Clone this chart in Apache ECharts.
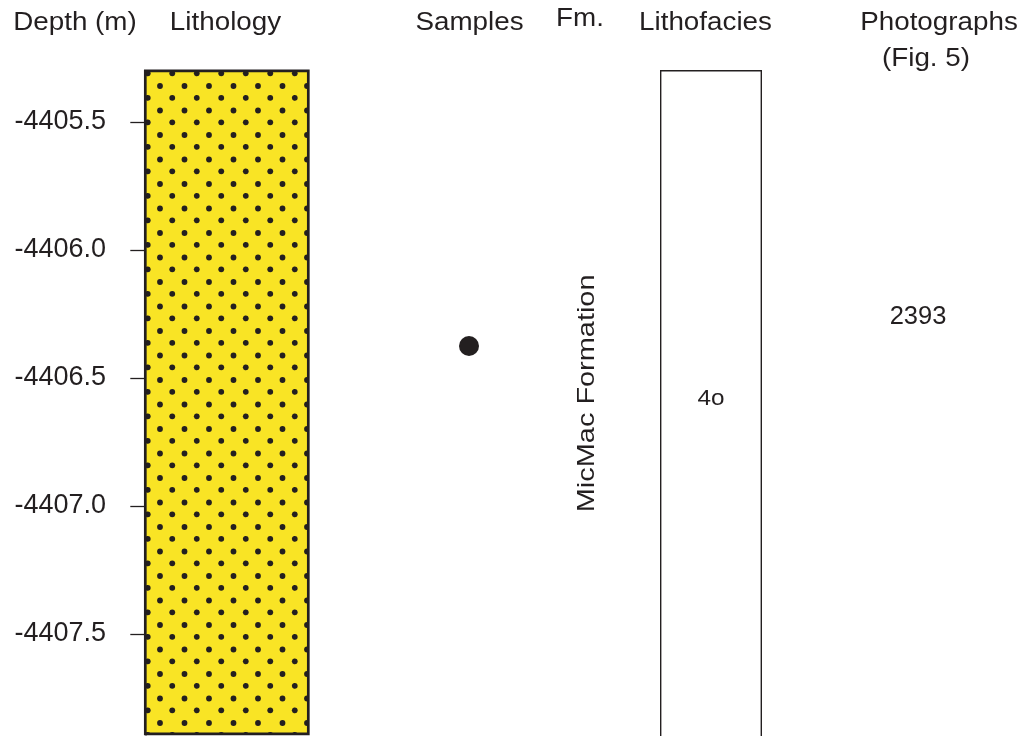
<!DOCTYPE html>
<html><head><meta charset="utf-8">
<script src="https://cdn.jsdelivr.net/npm/echarts@6/dist/echarts.min.js"></script>
<style>html,body{margin:0;padding:0;background:#fff}#c{width:1028px;height:736px}</style>
</head><body><div id="c"></div>
<script>
// ---------- data ----------
const depthTicks = [-4405.5, -4406.0, -4406.5, -4407.0, -4407.5];
const depthMin = -4408.0;
const depthMax = -4405.3;

const lithologyTop = [-4405.3];
const lithologyBottom = [-4407.89];
const lithologyRock = ['sandstone'];

const sampleDepths = [-4406.375];

const formationNames = ['MicMac Formation'];
const formationLabelDepth = [-4406.56];

const lithofaciesCodes = ['4o'];
const lithofaciesTop = [-4405.3];
const lithofaciesBottom = [-4408.0];
const lithofaciesLabelDepth = [-4406.58];

const photoLabels = ['2393'];
const photoDepths = [-4406.26];

const headerTexts = ['Depth (m)', 'Lithology', 'Samples', 'Fm.', 'Lithofacies', 'Photographs', '(Fig. 5)'];

// ---------- styling / layout ----------
const INK = '#231f20';
const FONT = 'Liberation Sans';
const headerLayout = [
  {x: 75, y: 22.5},
  {x: 225.5, y: 22.5},
  {x: 469.5, y: 22.5},
  {x: 580, y: 18.5},
  {x: 705.5, y: 22.5},
  {x: 939, y: 22.5},
  {x: 926, y: 59}
];
const HEADER_SIZE = 25.5, HEADER_STRETCH = 1.09;

function sandPattern() {
  const s = 49, c = document.createElement('canvas');
  c.width = s; c.height = s;
  const g = c.getContext('2d');
  g.fillStyle = '#f9e425'; g.fillRect(0, 0, s, s);
  g.fillStyle = INK;
  const pts = [[13, 37], [37.5, 37], [13, 12.5], [37.5, 12.5], [0.75, 24.3], [25.25, 24.3], [0.75, 48.8], [25.25, 48.8]];
  pts.forEach(([x, y]) => {
    for (const dx of [-s, 0, s]) for (const dy of [-s, 0, s]) {
      g.beginPath(); g.arc(x + dx, y + dy, 2.9, 0, Math.PI * 2); g.fill();
    }
  });
  return c;
}
const sandFill = {image: sandPattern(), repeat: 'repeat'};

const TOP = 70.8, HEIGHT = 691.2;
const grids = [
  {left: 145.3, top: TOP, width: 163, height: HEIGHT},   // lithology
  {left: 441, top: TOP, width: 56, height: HEIGHT},      // samples
  {left: 560, top: TOP, width: 54, height: HEIGHT},      // formation
  {left: 660.7, top: TOP, width: 100.6, height: HEIGHT}, // lithofacies
  {left: 890, top: TOP, width: 56, height: HEIGHT}       // photographs
].map(g => Object.assign(g, {outerBoundsMode: 'none', containLabel: false}));

const xAxes = grids.map((g, i) => ({type: 'value', gridIndex: i, min: 0, max: 1, show: false}));
const yAxes = grids.map((g, i) => {
  if (i === 0) {
    return {
      type: 'value', gridIndex: 0, min: depthMin, max: depthMax, position: 'left', offset: 3.8,
      axisLine: {show: true, lineStyle: {color: '#9a9a9a', width: 1.6}},
      axisTick: {show: true, length: 15, customValues: depthTicks, lineStyle: {color: INK, width: 1.3}},
      axisLabel: {customValues: depthTicks, formatter: v => v.toFixed(1), margin: 35.5,
        fontFamily: FONT, fontSize: 27, color: INK},
      splitLine: {show: false}
    };
  }
  return {type: 'value', gridIndex: i, min: depthMin, max: depthMax, show: false};
});

const option = {
  animation: false,
  backgroundColor: '#fff',
  grid: grids,
  xAxis: xAxes,
  yAxis: yAxes,
  graphic: headerTexts.map((t, i) => ({
    type: 'text', x: headerLayout[i].x, y: headerLayout[i].y, scaleX: HEADER_STRETCH,
    style: {text: t, fill: INK, font: HEADER_SIZE + 'px "' + FONT + '"', align: 'center', verticalAlign: 'middle'}
  })),
  series: [
    {
      type: 'custom', xAxisIndex: 0, yAxisIndex: 0,
      data: lithologyTop.map((t, i) => [t, lithologyBottom[i]]),
      encode: {y: [0, 1]},
      renderItem: (params, api) => {
        const p1 = api.coord([0, api.value(0)]);
        const p2 = api.coord([1, api.value(1)]);
        return {type: 'rect', shape: {x: p1[0], y: p1[1], width: p2[0] - p1[0], height: p2[1] - p1[1]},
          style: {fill: sandFill, stroke: INK, lineWidth: 2.7}};
      }
    },
    {
      type: 'scatter', xAxisIndex: 1, yAxisIndex: 1,
      data: sampleDepths.map(d => [0.5, d]),
      symbol: 'circle', symbolSize: 20, itemStyle: {color: INK, opacity: 1}
    },
    {
      type: 'custom', xAxisIndex: 2, yAxisIndex: 2,
      data: formationLabelDepth.map(d => [d]),
      encode: {y: 0},
      renderItem: (params, api) => {
        const p = api.coord([0.5, api.value(0)]);
        return {type: 'text', x: p[0], y: p[1], rotation: Math.PI / 2, scaleX: 1.18,
          style: {text: formationNames[params.dataIndex], fill: INK, font: '24.5px "' + FONT + '"', align: 'center', verticalAlign: 'middle'}};
      }
    },
    {
      type: 'custom', xAxisIndex: 3, yAxisIndex: 3,
      data: lithofaciesTop.map((t, i) => [t, lithofaciesBottom[i], lithofaciesLabelDepth[i]]),
      encode: {y: [0, 1, 2]},
      renderItem: (params, api) => {
        const p1 = api.coord([0, api.value(0)]);
        const p2 = api.coord([1, api.value(1)]);
        const pl = api.coord([0.5, api.value(2)]);
        return {type: 'group', children: [
          {type: 'rect', shape: {x: p1[0], y: p1[1], width: p2[0] - p1[0], height: p2[1] - p1[1]},
            style: {fill: 'rgba(0,0,0,0)', stroke: INK, lineWidth: 1.4}},
          {type: 'text', x: pl[0], y: pl[1], scaleX: 1.08,
            style: {text: lithofaciesCodes[params.dataIndex], fill: INK, font: '22.5px "' + FONT + '"', align: 'center', verticalAlign: 'middle'}}
        ]};
      }
    },
    {
      type: 'custom', xAxisIndex: 4, yAxisIndex: 4,
      data: photoDepths.map(d => [d]),
      encode: {y: 0},
      renderItem: (params, api) => {
        const p = api.coord([0.5, api.value(0)]);
        return {type: 'text', x: p[0], y: p[1],
          style: {text: photoLabels[params.dataIndex], fill: INK, font: '25.5px "' + FONT + '"', align: 'center', verticalAlign: 'middle'}};
      }
    }
  ]
};

const chart = echarts.init(document.getElementById('c'), null, {renderer: 'canvas'});
chart.setOption(option);
</script>
</body></html>
